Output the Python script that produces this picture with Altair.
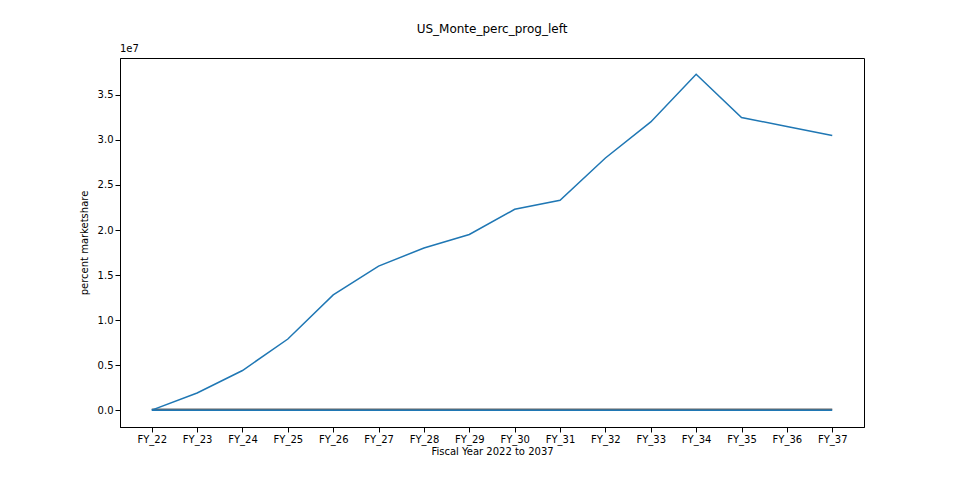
import altair as alt
import pandas as pd

years = ["FY_22","FY_23","FY_24","FY_25","FY_26","FY_27","FY_28","FY_29","FY_30","FY_31","FY_32","FY_33","FY_34","FY_35","FY_36","FY_37"]
main = [0, 1.9e6, 4.4e6, 7.9e6, 12.8e6, 16.0e6, 18.0e6, 19.5e6, 22.3e6, 23.3e6, 28.0e6, 32.0e6, 37.3e6, 32.5e6, 31.5e6, 30.5e6]
flat_gray = [1.0e5]*16
flat_blue = [0.0]*16

rows = []
for i, y in enumerate(years):
    rows.append({"i": i, "v": flat_gray[i], "s": "gray"})
    rows.append({"i": i, "v": flat_blue[i], "s": "blue"})
    rows.append({"i": i, "v": main[i], "s": "main"})
df = pd.DataFrame(rows)

labels = "[" + ",".join(f"'{y}'" for y in years) + "]"
F = "DejaVu Sans"
x = alt.X("i:Q", scale=alt.Scale(domain=[-0.7, 15.7], nice=False, zero=False),
          axis=alt.Axis(values=list(range(16)), labelExpr=f"{labels}[datum.value]", grid=False,
                        title="Fiscal Year 2022 to 2037", labelFont=F, titleFont=F, labelFontSize=10,
                        titleFontSize=10, titleFontWeight="normal", labelColor="black", titleColor="black",
                        domainColor="black", tickColor="black", labelFlush=False, labelAngle=0,
                        titlePadding=2))
y = alt.Y("v:Q", scale=alt.Scale(domain=[-1.87e6, 3.91e7], nice=False, zero=False),
          axis=alt.Axis(values=[0, 5e6, 1e7, 1.5e7, 2e7, 2.5e7, 3e7, 3.5e7],
                        labelExpr="format(datum.value/1e7, '.1f')", grid=False,
                        title="percent marketshare", labelFont=F, titleFont=F, labelFontSize=10,
                        titleFontSize=10, titleFontWeight="normal", labelColor="black", titleColor="black",
                        domainColor="black", tickColor="black", titlePadding=8))

line = alt.Chart(df).mark_line(strokeWidth=1.5).encode(
    x=x, y=y, detail="s:N",
    color=alt.Color("s:N", scale=alt.Scale(domain=["gray", "blue", "main"],
                                           range=["#666666", "#1f77b4", "#1f77b4"]), legend=None),
    strokeWidth=alt.StrokeWidth("s:N", scale=alt.Scale(domain=["gray", "blue", "main"], range=[3, 3, 1.5]), legend=None),
)
expo = alt.Chart(pd.DataFrame({"t": ["1e7"]})).mark_text(font=F, fontSize=10, align="left", baseline="bottom").encode(
    text="t:N", x=alt.value(0), y=alt.value(-4))

chart = (line + expo).properties(
    width=744, height=369,
    title=alt.TitleParams("US_Monte_perc_prog_left", font=F, fontSize=12, fontWeight="normal", color="black", offset=8),
    autosize=alt.AutoSizeParams(type="none"),
    padding={"left": 112, "top": 50, "right": 88, "bottom": 45},
).configure_view(stroke="black", strokeWidth=1)

chart.save("out.html", embed_options={"renderer": "svg", "actions": False})
